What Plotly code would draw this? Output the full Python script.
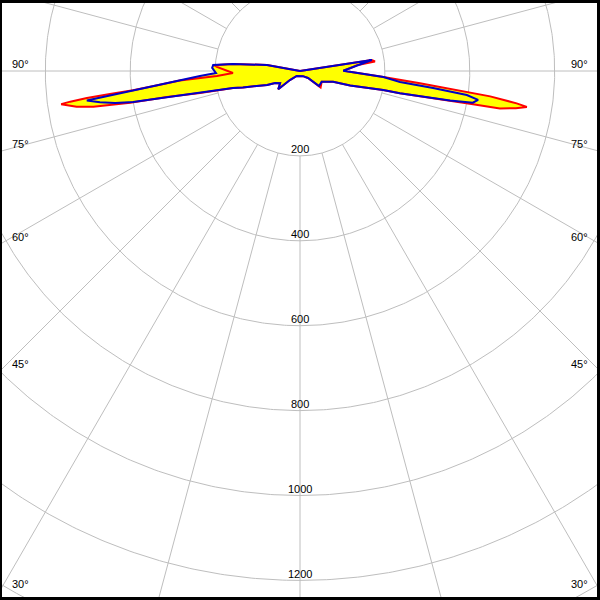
import numpy as np
import plotly.graph_objects as go

# ---- data: luminous intensity distribution (cd), gamma measured from nadir,
# negative = left half of the plane, positive = right half
gamma_red = [-180, -150, -120, -103, -101.3, -100.3, -96.0, -93.9, -92.8, -88.3,
             -86.6, -85.5, -84.2, -83.4, -83.1, -82.8, -82.4, -82.1, -80.9, -80.2,
             -79.4, -78.9, -77.6, -75.8, -73.9, -67.0, -64.4, -58.4, -49.9, -48.0,
             -33.4, 0, 30, 48.8, 50.6, 51.5, 63.7, 72.0, 73.8, 77.1,
             77.4, 78.9, 79.1, 79.4, 80.2, 81.0, 81.5, 82.4, 83.3, 84.2,
             85.9, 90.4, 93.4, 96.0, 97.2, 98.7, 99.5, 120, 150, 180]
cd_red = [0, 0, 0, 0, 36, 79, 159, 203, 196, 158,
          196, 284, 343, 396, 451, 506, 546, 568, 533, 494,
          407, 319, 241, 163, 140, 84, 65, 55, 67, 32,
          14, 12, 14, 25, 46, 62, 57, 82, 123, 201,
          241, 360, 415, 479, 516, 541, 516, 452, 356, 284,
          197, 102, 119, 137, 178, 171, 0, 0, 0, 0]

gamma_blue = [-180, -150, -120, -103, -101.3, -100.3, -96.0, -93.9, -92.0, -88.6,
              -87.1, -85.5, -84.2, -83.4, -82.7, -82.4, -82.1, -81.1, -80.2, -79.5,
              -78.9, -77.6, -75.8, -73.9, -67.0, -64.4, -58.4, -49.9, -48.0, -33.4,
              0, 30, 48.8, 50.6, 51.7, 63.7, 72.0, 73.8, 77.1, 77.4,
              78.9, 79.6, 80.8, 81.8, 82.7, 83.7, 85.9, 90.4, 93.4, 96.0,
              97.5, 98.7, 99.5, 120, 150, 180]
cd_blue = [0, 0, 0, 0, 36, 79, 159, 205, 207, 198,
           236, 284, 343, 396, 451, 475, 507, 477, 442, 400,
           319, 241, 163, 140, 84, 65, 55, 67, 32, 14,
           12, 14, 25, 46, 57, 57, 82, 123, 201, 241,
           360, 414, 425, 397, 316, 237, 197, 102, 119, 137,
           155, 171, 0, 0, 0, 0]

radial_ticks = [200, 400, 600, 800, 1000, 1200, 1400]
radial_labels = ["200", "400", "600", "800", "1000", "1200"]
side_angles = [90, 75, 60, 45, 30]
bottom_angles = [-15, 0, 15]

# ---- layout constants (pixels)
PX = 0.4245            # pixels per cd
CX, CY = 300, 71       # origin position on the 600x600 page
ML, MR, MT, MB = 2, 3, 3, 3
x_range = [(ML - CX) / PX, (600 - MR - CX) / PX]
y_range = [-(600 - MB - CY) / PX, (CY - MT) / PX]

GRID = "#BEBEBE"
FONT = dict(family="Liberation Sans, Arial, sans-serif", size=11, color="black")


def to_xy(gamma, cd):
    g = np.radians(np.asarray(gamma, dtype=float))
    r = np.asarray(cd, dtype=float)
    return r * np.sin(g), -r * np.cos(g)


fig = go.Figure()

# grid circles
t = np.radians(np.linspace(0, 360, 721))
cx, cy = [], []
for r in radial_ticks:
    cx += list(r * np.sin(t)) + [None]
    cy += list(-r * np.cos(t)) + [None]
fig.add_trace(go.Scatter(x=cx, y=cy, mode="lines", line=dict(color=GRID, width=1),
                         hoverinfo="skip"))

# spokes every 15 degrees starting at the first circle
sx, sy = [], []
for a in range(0, 360, 15):
    ar = np.radians(a)
    sx += [200 * np.sin(ar), 2000 * np.sin(ar), None]
    sy += [-200 * np.cos(ar), -2000 * np.cos(ar), None]
fig.add_trace(go.Scatter(x=sx, y=sy, mode="lines", line=dict(color=GRID, width=1),
                         hoverinfo="skip"))

xr, yr = to_xy(gamma_red, cd_red)
xb, yb = to_xy(gamma_blue, cd_blue)

# yellow fills
for xx, yy in [(xr, yr), (xb, yb)]:
    fig.add_trace(go.Scatter(x=xx, y=yy, mode="lines", fill="toself",
                             fillcolor="#FFFF00", line=dict(width=0, color="#FFFF00"),
                             hoverinfo="skip"))
# outlines
fig.add_trace(go.Scatter(x=xr, y=yr, mode="lines", line=dict(color="#FF0000", width=2),
                         name="C0-C180"))
fig.add_trace(go.Scatter(x=xb, y=yb, mode="lines", line=dict(color="#0000C8", width=2),
                         name="C90-C270"))

ann = []
for r, lab in zip(radial_ticks, radial_labels):
    ann.append(dict(x=0, y=-r, text=lab, showarrow=False, xanchor="center",
                    yanchor="middle", yshift=6.5, font=FONT))

edge = CX / PX
for g in side_angles:
    yv = -edge / np.tan(np.radians(g)) if g != 90 else 0.0
    ann.append(dict(x=(9.5 - CX) / PX, y=yv, text=f"{g}°", showarrow=False,
                    xanchor="left", yanchor="middle", yshift=7, font=FONT))
    ann.append(dict(x=(589.5 - CX) / PX, y=yv, text=f"{g}°", showarrow=False,
                    xanchor="right", yanchor="middle", yshift=7, font=FONT))

bottom_y = -(600 - CY) / PX
shifts = {-15: -4, 0: 0, 15: 2}
for g in bottom_angles:
    xv = (600 - CY) / PX * np.tan(np.radians(g))
    ann.append(dict(x=xv, y=bottom_y, text=f"{abs(g)}°", showarrow=False,
                    xanchor="center", yanchor="middle", yshift=11, xshift=shifts[g],
                    font=FONT))

fig.update_layout(
    width=600, height=600,
    margin=dict(l=ML, r=MR, t=MT, b=MB, pad=0),
    paper_bgcolor="black", plot_bgcolor="white",
    showlegend=False, hovermode=False,
    xaxis=dict(range=x_range, visible=False, showgrid=False, zeroline=False, fixedrange=True),
    yaxis=dict(range=y_range, visible=False, showgrid=False, zeroline=False, fixedrange=True),
    annotations=ann,
)

fig.write_html("out.html", config=dict(displayModeBar=False),
               post_script="document.body.style.margin='0';document.body.style.overflow='hidden';")
